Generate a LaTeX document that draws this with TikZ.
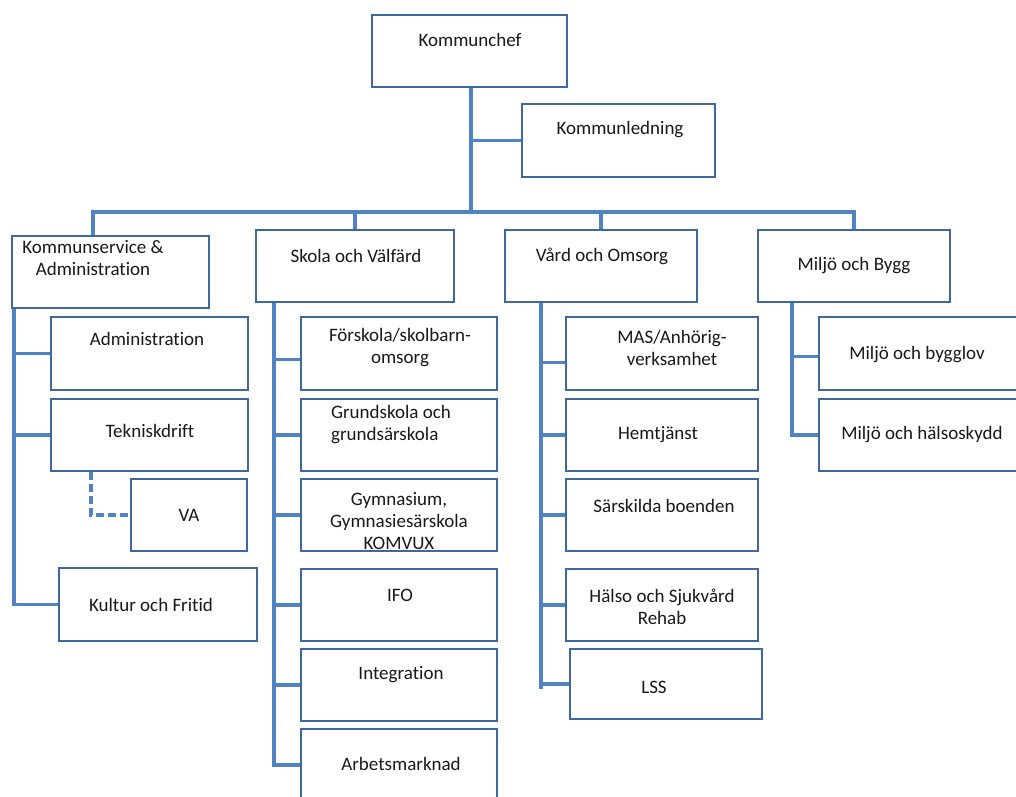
\documentclass[tikz,border=0pt]{standalone}
\usepackage{fontspec}
\setmainfont{Carlito}[Ligatures=CommonOff]
\usetikzlibrary{calc}
\definecolor{bord}{RGB}{62,104,160}
\definecolor{conn}{RGB}{79,131,196}
\definecolor{ink}{RGB}{25,25,25}
\begin{document}
\begin{tikzpicture}[x=1pt,y=-1pt,
  box/.style={draw=bord, line width=2.3pt, rectangle, inner sep=0pt, fill=white},
  lbl/.style={font=\fontsize{19}{22}\selectfont, text=ink, align=center, inner sep=0pt},
  con/.style={draw=conn, line width=3.8pt, line join=miter},
  dcon/.style={con, dash pattern=on 8pt off 4pt}]
\useasboundingbox (0,0) rectangle (1016,796);
\clip (0,0) rectangle (1016,796);

% ---- boxes ----
\node[box, minimum width=195pt, minimum height=72pt] (kc) at (469.5,51) {};
\node[box, minimum width=193pt, minimum height=73pt] (kl) at (618.5,140.5) {};
\node[box, minimum width=197pt, minimum height=72pt] (ks) at (110.5,272) {};
\node[box, minimum width=198pt, minimum height=72pt] (sv) at (355,266) {};
\node[box, minimum width=192pt, minimum height=72pt] (vo) at (601,266) {};
\node[box, minimum width=192pt, minimum height=72pt] (mb) at (854,266) {};

\node[box, minimum width=197pt, minimum height=73pt] (ad) at (149.5,353.5) {};
\node[box, minimum width=197pt, minimum height=72pt] (td) at (149.5,435) {};
\node[box, minimum width=116pt, minimum height=72pt] (va) at (189,515) {};
\node[box, minimum width=198pt, minimum height=73pt] (kf) at (158,604.5) {};

\node[box, minimum width=196pt, minimum height=73pt] (fs) at (399,353.5) {};
\node[box, minimum width=196pt, minimum height=72pt] (gs) at (399,435) {};
\node[box, minimum width=196pt, minimum height=72pt] (gy) at (399,515) {};
\node[box, minimum width=196pt, minimum height=72pt] (ifo) at (399,605) {};
\node[box, minimum width=196pt, minimum height=72pt] (in) at (399,685) {};
\node[box, minimum width=196pt, minimum height=72pt] (am) at (399,765) {};

\node[box, minimum width=192pt, minimum height=73pt] (mas) at (662,353.5) {};
\node[box, minimum width=192pt, minimum height=72pt] (hj) at (662,435) {};
\node[box, minimum width=192pt, minimum height=72pt] (sb) at (662,515) {};
\node[box, minimum width=192pt, minimum height=72pt] (hs) at (662,605) {};
\node[box, minimum width=192pt, minimum height=70pt] (lss) at (666,684) {};

\node[box, minimum width=202pt, minimum height=73pt] (mbl) at (920,353.5) {};
\node[box, minimum width=202pt, minimum height=72pt] (mhs) at (920,435) {};

% ---- texts ----
\node[lbl] (kct) at (470,40) {Kommunchef};
\node[lbl] (klt) at (620,130) {Kommunledning};
\node[lbl] (kst) at (93,258) {Kommunservice \&\\Administration};
\node[lbl] (svt) at (356,256) {Skola och Välfärd};
\node[lbl] (vot) at (602,256) {Vård och Omsorg};
\node[lbl] (mbt) at (854,266) {Miljö och Bygg};

\node[lbl] (adt) at (147,339) {Administration};
\node[lbl] (tdt) at (150,431) {Tekniskdrift};
\node[lbl] (vat) at (189,515) {VA};
\node[lbl] (kft) at (151,605) {Kultur och Fritid};

\node[lbl] (fst) at (400,348) {Förskola/skolbarn-\\omsorg};
\node[lbl, align=left] (gst) at (391,425) {Grundskola och\\grundsärskola};
\node[lbl] (gyt) at (399,521) {Gymnasium,\\Gymnasiesärskola\\KOMVUX};
\node[lbl] (ifot) at (400,595) {IFO};
\node[lbl] (int) at (401,675) {Integration};
\node[lbl] (amt) at (401,764) {Arbetsmarknad};

\node[lbl] (mast) at (672,348) {MAS/Anhörig-\\verksamhet};
\node[lbl] (hjt) at (658,435) {Hemtjänst};
\node[lbl] (sbt) at (664,506) {Särskilda boenden};
\node[lbl] (hst) at (662,607) {Hälso och Sjukvård\\Rehab};
\node[lbl] (lsst) at (654,687) {LSS};

\node[lbl] (mblt) at (917,355) {Miljö och bygglov};
\node[lbl] (mhst) at (922,435) {Miljö och hälsoskydd};

% ---- connectors ----
\coordinate (busL) at (93,212);
\coordinate (tr) at ($(kc.south)+(1.5,0)$);
\draw[con] (tr) -- (tr |- busL);
\draw[con] (tr |- kl.west) -- (kl.west);
\draw[con] (busL |- ks.north) -- (busL) -- (mb.north |- busL) -- (mb.north);
\draw[con] (sv.north |- busL) -- (sv.north);
\draw[con] (vo.north |- busL) -- (vo.north);

\coordinate (ksx) at ($(ks.south west)+(3,0)$);
\draw[con] (ksx) |- (kf.west);
\draw[con] (ksx |- ad.west) -- (ad.west);
\draw[con] (ksx |- td.west) -- (td.west);
\coordinate (tdx) at ($(td.south west)+(41,0)$);
\draw[dcon] (tdx) |- (va.west);

\coordinate (svx) at ($(sv.south west)+(19,0)$);
\coordinate (fsb) at ($(fs.west)+(0,6)$);
\draw[con] (svx) |- (am.west);
\draw[con] (svx |- fsb) -- (fsb);
\draw[con] (svx |- gs.west) -- (gs.west);
\draw[con] (svx |- gy.west) -- (gy.west);
\draw[con] (svx |- ifo.west) -- (ifo.west);
\draw[con] (svx |- in.west) -- (in.west);

\coordinate (vox) at ($(vo.south west)+(37,0)$);
\coordinate (voe) at ($(lss.west)+(0,5)$);
\coordinate (masb) at ($(mas.west)+(0,9)$);
\draw[con] (vox) -- (vox |- voe);
\draw[con] (vox |- masb) -- (masb);
\draw[con] (vox |- hj.west) -- (hj.west);
\draw[con] (vox |- sb.west) -- (sb.west);
\draw[con] (vox |- hs.west) -- (hs.west);
\draw[con] (vox |- lss.west) -- (lss.west);

\coordinate (mbx) at ($(mb.south west)+(35,0)$);
\coordinate (mblb) at ($(mbl.west)+(0,3)$);
\draw[con] (mbx) |- (mhs.west);
\draw[con] (mbx |- mblb) -- (mblb);
\end{tikzpicture}
\end{document}
